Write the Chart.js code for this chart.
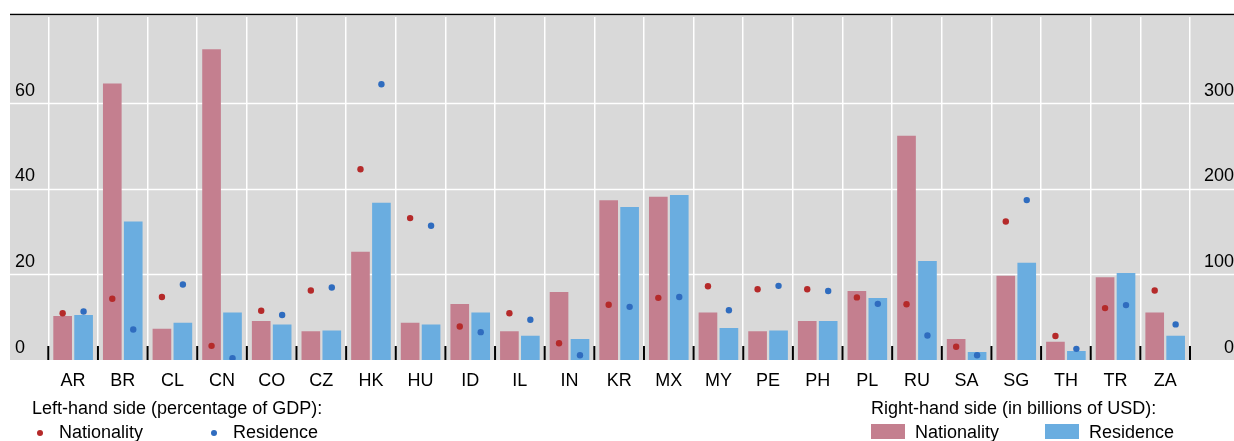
<!DOCTYPE html>
<html>
<head>
<meta charset="utf-8">
<script src="https://cdn.jsdelivr.net/npm/chart.js@4/dist/chart.umd.min.js"></script>
<style>
  body { margin: 0; background: #fff; overflow: hidden; }
  #wrap { position: relative; width: 1234px; height: 441px; font-family: "Liberation Sans", Arial, sans-serif; font-size: 18px; color: #000; }
  #wrap canvas { position: absolute; left: 0; top: 0; }
  .lg { position: absolute; line-height: 18px; white-space: nowrap; }
  .dot { position: absolute; width: 6px; height: 6px; border-radius: 50%; }
  .box { position: absolute; width: 34px; height: 15px; }
</style>
</head>
<body>
<div id="wrap">
  <canvas id="chart" width="1234" height="441"></canvas>
  <div class="lg" style="left:32px; top:399px;">Left-hand side (percentage of GDP):</div>
  <span class="dot" style="left:37px; top:430px; background:#b52a2a;"></span>
  <div class="lg" style="left:59px; top:423px;">Nationality</div>
  <span class="dot" style="left:211px; top:430px; background:#2f6cbf;"></span>
  <div class="lg" style="left:233px; top:423px;">Residence</div>

  <div class="lg" style="left:871px; top:399px;">Right-hand side (in billions of USD):</div>
  <span class="box" style="left:871px; top:424px; background:#c47f8f;"></span>
  <div class="lg" style="left:915px; top:423px;">Nationality</div>
  <span class="box" style="left:1045px; top:424px; background:#6aade0;"></span>
  <div class="lg" style="left:1089px; top:423px;">Residence</div>
</div>
<script>
// countries
const countries = ['AR', 'BR', 'CL', 'CN', 'CO', 'CZ', 'HK', 'HU', 'ID', 'IL', 'IN', 'KR',
                   'MX', 'MY', 'PE', 'PH', 'PL', 'RU', 'SA', 'SG', 'TH', 'TR', 'ZA'];

// right-hand side, billions of USD (bars)
const natUsd = [51, 322, 36, 362, 45, 33, 126, 43, 65, 33, 79, 186,
                190, 55, 33, 45, 80, 261, 24, 98, 21, 96, 55];
const resUsd = [52, 161, 43, 55, 41, 34, 183, 41, 55, 28, 24, 178,
                192, 37, 34, 45, 72, 115, 9, 113, 10, 101, 28];

// left-hand side, percentage of GDP (dots)
const natGdp = [10.9, 14.3, 14.7, 3.3, 11.5, 16.2, 44.5, 33.1, 7.8, 10.9, 3.9, 12.9,
                14.5, 17.2, 16.5, 16.5, 14.6, 13.0, 3.1, 32.3, 5.6, 12.1, 16.2];
const resGdp = [11.3, 7.1, 17.6, 0.4, 10.5, 16.9, 64.3, 31.3, 6.5, 9.4, 1.1, 12.4,
                14.7, 11.6, 17.3, 16.1, 13.1, 5.7, 1.1, 37.3, 2.6, 12.8, 8.3];

const leftTicks = [0, 20, 40, 60];
const rightTicks = [0, 100, 200, 300];

// each country: two bars side by side, the dot sits over its bar
const shift = 0.211;

Chart.defaults.font.family = '"Liberation Sans", Arial, sans-serif';
Chart.defaults.font.size = 18;
Chart.defaults.color = '#000';

// grey panel, horizontal lines, top rule and the little bottom ticks
const panel = {
    id: 'panel',
    beforeDraw(chart) {
        const c = chart.ctx;
        const a = chart.chartArea;
        const yL = chart.scales.yL;
        c.save();
        c.fillStyle = '#d9d9d9';
        c.fillRect(10, 16, 1224, a.bottom - 16);
        c.strokeStyle = '#ffffff';
        c.lineWidth = 1.5;
        leftTicks.forEach(v => {
            if (v === 0) return;
            const y = Math.round(yL.getPixelForValue(v)) + 0.5;
            c.beginPath();
            c.moveTo(10, y);
            c.lineTo(1234, y);
            c.stroke();
        });
        c.strokeStyle = '#000';
        c.lineWidth = 1.3;
        c.beginPath();
        c.moveTo(10, 14.5);
        c.lineTo(1234, 14.5);
        c.stroke();
        c.restore();
    },
    afterDatasetsDraw(chart) {
        const c = chart.ctx;
        const a = chart.chartArea;
        const step = (a.right - a.left) / countries.length;
        c.save();
        c.strokeStyle = '#000';
        c.lineWidth = 2;
        for (let i = 0; i <= countries.length; i++) {
            const x = a.left + i * step;
            c.beginPath();
            c.moveTo(x, a.bottom - 14);
            c.lineTo(x, a.bottom);
            c.stroke();
        }
        c.restore();
    }
};

new Chart(document.getElementById('chart'), {
    type: 'bar',
    data: {
        labels: countries,
        datasets: [
            {
                type: 'scatter',
                label: 'Nationality (% of GDP)',
                data: natGdp.map((v, i) => ({ x: i - shift, y: v })),
                xAxisID: 'xd',
                yAxisID: 'yL',
                backgroundColor: '#b52a2a',
                borderWidth: 0,
                pointRadius: 3.2,
                order: 0
            },
            {
                type: 'scatter',
                label: 'Residence (% of GDP)',
                data: resGdp.map((v, i) => ({ x: i + shift, y: v })),
                xAxisID: 'xd',
                yAxisID: 'yL',
                backgroundColor: '#2f6cbf',
                borderWidth: 0,
                pointRadius: 3.2,
                order: 0
            },
            {
                label: 'Nationality (USD bn)',
                data: natUsd.map((v, i) => ({ x: i - shift, y: v })),
                xAxisID: 'xd',
                yAxisID: 'yR',
                backgroundColor: '#c47f8f',
                grouped: false,
                barThickness: 18,
                order: 1
            },
            {
                label: 'Residence (USD bn)',
                data: resUsd.map((v, i) => ({ x: i + shift, y: v })),
                xAxisID: 'xd',
                yAxisID: 'yR',
                backgroundColor: '#6aade0',
                grouped: false,
                barThickness: 18,
                order: 1
            }
        ]
    },
    options: {
        responsive: false,
        animation: false,
        events: [],
        layout: { padding: { left: 15, right: 0, top: 17, bottom: 0 } },
        plugins: {
            legend: { display: false },
            tooltip: { enabled: false }
        },
        scales: {
            x: {
                type: 'category',
                offset: true,
                border: { display: false },
                grid: { color: '#ffffff', lineWidth: 1.5, offset: true, drawTicks: false },
                ticks: { padding: 10, maxRotation: 0, autoSkip: false },
                afterFit: (s) => { s.height = 81; }
            },
            xd: {
                type: 'linear',
                display: false,
                offset: false,
                grid: { offset: false },
                min: -0.5,
                max: countries.length - 0.5
            },
            yL: {
                position: 'left',
                min: 0,
                max: 80,
                border: { display: false },
                grid: { display: false },
                ticks: {
                    stepSize: 20,
                    crossAlign: 'far',
                    labelOffset: -12,
                    padding: 0,
                    callback: (v) => leftTicks.includes(v) ? String(v) : ''
                },
                afterFit: (s) => { s.width = 33.3; }
            },
            yR: {
                position: 'right',
                min: 0,
                max: 400,
                border: { display: false },
                grid: { display: false },
                ticks: {
                    stepSize: 100,
                    crossAlign: 'far',
                    labelOffset: -12,
                    padding: 0,
                    callback: (v) => rightTicks.includes(v) ? String(v) : ''
                },
                afterFit: (s) => { s.width = 44; }
            }
        }
    },
    plugins: [panel]
});
</script>
</body>
</html>
